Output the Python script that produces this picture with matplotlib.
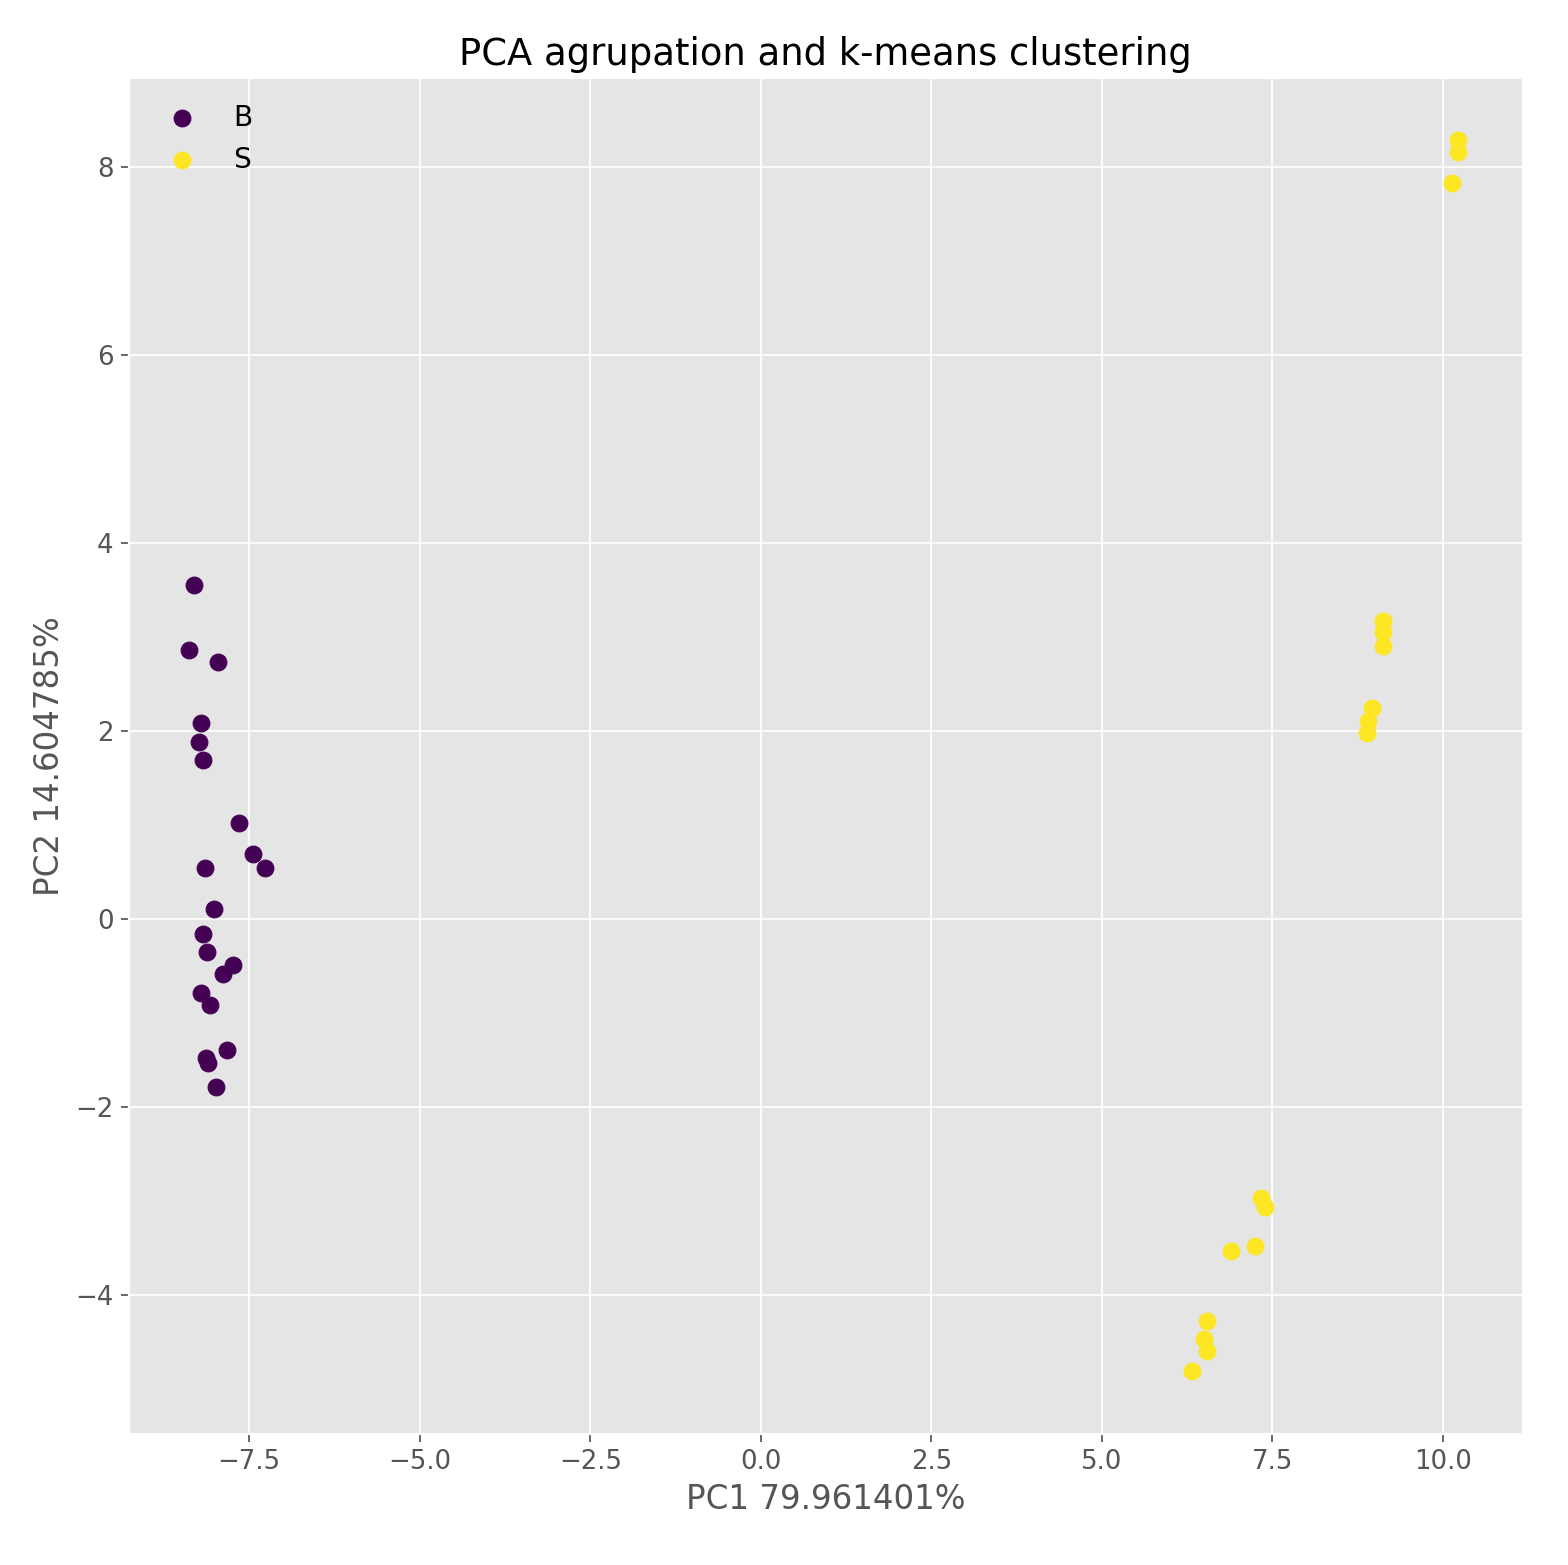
import numpy as np
import matplotlib.pyplot as plt

plt.style.use('ggplot')

# cluster B (purple)
b_x = [-8.31, -8.39, -7.96, -8.21, -8.24, -8.18, -7.65, -7.45, -7.27, -8.15, -8.02,
       -8.18, -8.12, -7.74, -7.89, -8.21, -8.08, -7.83, -8.14, -8.11, -7.99]
b_y = [3.55, 2.86, 2.74, 2.09, 1.88, 1.69, 1.02, 0.69, 0.54, 0.54, 0.11,
       -0.16, -0.35, -0.49, -0.59, -0.79, -0.92, -1.40, -1.48, -1.54, -1.79]
# cluster S (yellow)
s_x = [10.23, 10.22, 10.13, 9.13, 9.12, 9.13, 8.96, 8.91, 8.89, 7.33, 7.40,
       6.89, 7.24, 6.55, 6.50, 6.55, 6.33]
s_y = [8.29, 8.16, 7.84, 3.17, 3.05, 2.91, 2.25, 2.11, 1.98, -2.97, -3.07,
       -3.54, -3.48, -4.28, -4.47, -4.60, -4.81]

fig = plt.figure(figsize=(1568/156, 1565/156), dpi=156)
ax = fig.add_axes([0.082, 0.084, 0.889, 0.866])

ax.scatter(b_x, b_y, color='#440154', s=60, label='B')
ax.scatter(s_x, s_y, color='#fde725', s=60, label='S')

ax.set_xlim(-9.27, 11.17)
ax.set_ylim(-5.48, 8.95)
ax.set_xticks([-7.5, -5.0, -2.5, 0.0, 2.5, 5.0, 7.5, 10.0])
ax.tick_params(labelsize=12)
ax.set_xlabel('PC1 79.961401%', fontsize=15)
ax.set_ylabel('PC2 14.604785%', fontsize=15)
ax.set_title('PCA agrupation and k-means clustering', fontsize=17)
ax.legend(loc='upper left', frameon=False, fontsize=13)

fig.savefig('out.png', dpi=156)
